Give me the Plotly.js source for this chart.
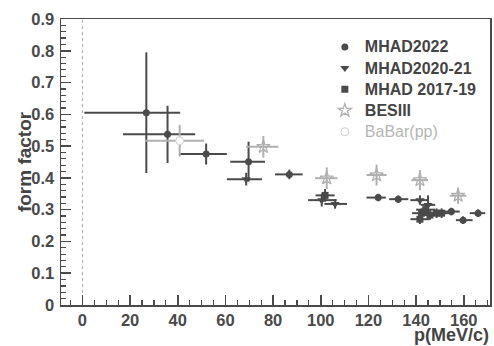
<!DOCTYPE html>
<html>
<head>
<meta charset="utf-8">
<script src="https://cdn.plot.ly/plotly-3.0.1.min.js"></script>
<style>
  html, body { margin: 0; padding: 0; background: #fff; }
  #chart { width: 494px; height: 346px; }
</style>
</head>
<body>
<div id="chart"></div>
<script>
// ---- data ----
const mhad2022_x      = [26.8, 35.7, 51.9, 69.7, 86.8, 124.1, 132.5, 154.8, 159.7, 166.0];
const mhad2022_y      = [0.605, 0.537, 0.475, 0.451, 0.411, 0.338, 0.333, 0.294, 0.267, 0.289];
const mhad2022_xminus = [26.0, 18.7, 11.1, 7.7, 6.0, 4.9, 3.8, 3.5, 3.0, 3.5];
const mhad2022_xplus  = [14.2, 11.6, 8.7, 6.9, 5.6, 3.2, 4.2, 3.5, 4.0, 3.0];
const mhad2022_yerr   = [0.19, 0.09, 0.033, 0.063, 0.015, 0.012, 0.012, 0.012, 0.012, 0.012];

const mhad2021_x      = [68.7, 100.4, 106.0, 141.6, 145.0];
const mhad2021_y      = [0.396, 0.330, 0.318, 0.330, 0.315];
const mhad2021_xminus = [8.1, 5.7, 4.5, 4.0, 3.0];
const mhad2021_xplus  = [6.6, 6.3, 5.0, 3.5, 3.0];
const mhad2021_yerr   = [0.02, 0.02, 0.015, 0.015, 0.03];

const mhad2019_x      = [101.8, 142.3, 145.8, 148.6, 141.6, 150.7, 144.0];
const mhad2019_y      = [0.345, 0.289, 0.283, 0.289, 0.270, 0.289, 0.300];
const mhad2019_xminus = [4.0, 4.0, 4.0, 4.0, 4.0, 4.0, 4.0];
const mhad2019_xplus  = [4.0, 4.0, 4.0, 4.0, 4.0, 4.0, 4.0];
const mhad2019_yerr   = [0.02, 0.015, 0.015, 0.015, 0.015, 0.015, 0.015];

const besiii_x      = [75.9, 102.5, 123.4, 141.6, 157.6];
const besiii_y      = [0.498, 0.399, 0.409, 0.393, 0.344];
const besiii_xminus = [7.2, 4.9, 4.2, 3.6, 3.5];
const besiii_xplus  = [6.3, 4.5, 4.2, 3.4, 3.5];
const besiii_yerr   = [0.034, 0.034, 0.033, 0.032, 0.026];

const babar_x      = [40.8];
const babar_y      = [0.517];
const babar_xminus = [14.4];
const babar_xplus  = [10.2];
const babar_yerr   = [0.05];

const seriesNames = ['MHAD2022', 'MHAD2020-21', 'MHAD 2017-19', 'BESIII', 'BaBar(pp)'];
const xTickVals = [0, 20, 40, 60, 80, 100, 120, 140, 160];
const yTickVals = [0, 0.1, 0.2, 0.3, 0.4, 0.5, 0.6, 0.7, 0.8, 0.9];

// ---- styling ----
const DARK = '#4a4a4a';
const LIGHT = '#b0b0b0';
const FONT = 'Liberation Sans, Arial, sans-serif';

function ebar(minus, plus, color) {
  return {type: 'data', symmetric: false, array: plus, arrayminus: minus,
          color: color, thickness: 2, width: 0};
}
function ebarSym(err, color) {
  return {type: 'data', array: err, color: color, thickness: 2, width: 0};
}
function legName(name, extra) {
  return '<span style="font-size:16px' + (extra || '') + '">' + name + '</span>';
}

const traces = [
  {
    x: mhad2022_x, y: mhad2022_y, name: legName(seriesNames[0]), type: 'scatter', mode: 'markers',
    marker: {symbol: 'circle', size: 7, color: DARK},
    error_x: ebar(mhad2022_xminus, mhad2022_xplus, DARK),
    error_y: ebarSym(mhad2022_yerr, DARK)
  },
  {
    x: mhad2021_x, y: mhad2021_y, name: legName(seriesNames[1]), type: 'scatter', mode: 'markers',
    marker: {symbol: 'triangle-down', size: 8, color: DARK},
    error_x: ebar(mhad2021_xminus, mhad2021_xplus, DARK),
    error_y: ebarSym(mhad2021_yerr, DARK)
  },
  {
    x: mhad2019_x, y: mhad2019_y, name: legName(seriesNames[2]), type: 'scatter', mode: 'markers',
    marker: {symbol: 'square', size: 7, color: DARK},
    error_x: ebar(mhad2019_xminus, mhad2019_xplus, DARK),
    error_y: ebarSym(mhad2019_yerr, DARK)
  },
  {
    x: besiii_x, y: besiii_y, name: legName(seriesNames[3]), type: 'scatter', mode: 'markers',
    marker: {symbol: 'star-open', size: 10, color: LIGHT, line: {width: 1.3, color: LIGHT}},
    error_x: ebar(besiii_xminus, besiii_xplus, LIGHT),
    error_y: ebarSym(besiii_yerr, LIGHT)
  },
  {
    x: babar_x, y: babar_y,
    name: legName(seriesNames[4], ';color:#b5b5b5;font-weight:normal'),
    type: 'scatter', mode: 'markers',
    marker: {symbol: 'circle', size: 8, color: '#ffffff', line: {width: 1, color: '#d0d0d0'}},
    error_x: ebar(babar_xminus, babar_xplus, LIGHT),
    error_y: ebarSym(babar_yerr, LIGHT)
  }
];

const tickFont = {family: FONT, size: 16.5, color: '#4a4a4a', weight: 'bold'};

const layout = {
  width: 494, height: 346,
  margin: {l: 61, r: 4, t: 19, b: 41, pad: 0},
  paper_bgcolor: '#ffffff', plot_bgcolor: '#ffffff',
  showlegend: true,
  legend: {
    x: 0.615, y: 0.957, xanchor: 'left', yanchor: 'top',
    bgcolor: 'rgba(0,0,0,0)', borderwidth: 0,
    font: {family: FONT, size: 14, color: '#444444', weight: 'bold'},
    tracegroupgap: 0, itemwidth: 30
  },
  xaxis: {
    range: [-9, 171], tickvals: xTickVals, ticks: 'inside', ticklen: 10, tickwidth: 1.5,
    tickcolor: DARK, showline: true, mirror: true, linecolor: DARK, linewidth: 1.5,
    showgrid: false, zeroline: false, tickfont: tickFont, ticklabelstandoff: 0,
    minor: {dtick: 5, tick0: 0, ticks: 'inside', ticklen: 5, tickwidth: 1.2, tickcolor: DARK, showgrid: false}
  },
  yaxis: {
    range: [0, 0.9], tickvals: yTickVals, ticks: 'inside', ticklen: 10, tickwidth: 1.5,
    tickcolor: DARK, showline: true, mirror: true, linecolor: DARK, linewidth: 1.5,
    showgrid: false, zeroline: false, tickfont: tickFont, ticklabelstandoff: 2,
    minor: {dtick: 0.02, tick0: 0, ticks: 'inside', ticklen: 5, tickwidth: 1.2, tickcolor: DARK, showgrid: false}
  },
  shapes: [
    {type: 'line', xref: 'x', yref: 'paper', x0: 0, x1: 0, y0: 0, y1: 1,
     line: {color: '#aaaaaa', width: 1, dash: 'dot'}, layer: 'below'}
  ],
  annotations: [
    {text: 'form factor', xref: 'paper', yref: 'paper', x: -0.086, y: 0.5,
     xanchor: 'center', yanchor: 'middle', textangle: -90, showarrow: false,
     font: {family: FONT, size: 19, color: '#444444', weight: 'bold'}},
    {text: 'p(MeV/c)', xref: 'paper', yref: 'paper', x: 1.0, y: -0.1434,
     xanchor: 'right', yanchor: 'bottom', showarrow: false, borderpad: 0,
     font: {family: FONT, size: 18, color: '#444444', weight: 'bold'}}
  ]
};

Plotly.newPlot('chart', traces, layout, {displayModeBar: false, staticPlot: true});
</script>
</body>
</html>
